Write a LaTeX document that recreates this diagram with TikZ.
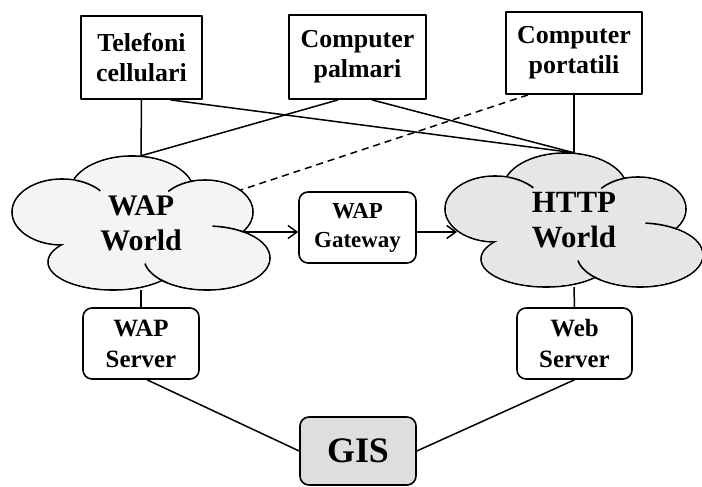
\documentclass[tikz,border=0pt]{standalone}
\usepackage{fontspec}
\setmainfont{Liberation Serif}
\usetikzlibrary{arrows.meta}
\usetikzlibrary{backgrounds}

\definecolor{wapgray}{HTML}{F4F4F4}
\definecolor{httpgray}{HTML}{E6E6E6}
\definecolor{gisgray}{HTML}{DEDEDE}

\tikzset{
  device/.style={draw, line width=1.8bp, align=center, inner sep=0pt,
    font=\bfseries\fontsize{26}{30}\selectfont},
  server/.style={draw, line width=1.6bp, rounded corners=9bp, align=center, inner sep=0pt,
    font=\bfseries\fontsize{25}{31}\selectfont},
  world/.style={align=center, inner sep=0pt, minimum width=258bp, minimum height=134bp,
    font=\bfseries\fontsize{30}{35}\selectfont},
  puff fill/.store in=\pufffill, puff fill=white,
  pics/puffcloud/.style={code={
    % outline of every puff, then the inside filled again
    \foreach \px/\py/\rx/\ry in {-9/31/62/36, -79/11/50/33, 64/11/48/32, -28/-39/65/28, 66/-35/63/32}
      \filldraw[fill=\pufffill, line width=1.6bp] (\px bp,\py bp) ellipse [x radius=\rx bp, y radius=\ry bp];
    \foreach \px/\py/\rx/\ry in {-9/31/62/36, -79/11/50/33, 64/11/48/32, -28/-39/65/28, 66/-35/63/32, 0/0/80/30}
      \fill[\pufffill] (\px bp,\py bp) ellipse [x radius=\rx bp-1bp, y radius=\ry bp-1bp];
    % short inner arcs
    \foreach \px/\py/\rx/\ry/\sa/\ea in {-79/11/50/33/75/40, 64/11/48/32/105/140,
        66/-35/63/32/85/55, 66/-35/63/32/190/230}
      \draw[line width=1.6bp] (\px bp,\py bp) ++(\sa:\rx bp and \ry bp)
        arc [start angle=\sa, end angle=\ea, x radius=\rx bp, y radius=\ry bp];
  }},
  link/.style={line width=1.5bp},
  arr/.style={line width=1.5bp, -{Straight Barb[length=9bp,width=13bp,line width=1.5bp]}},
}

\begin{document}
\begin{tikzpicture}[line join=round]
\useasboundingbox (0bp,0bp) rectangle (702bp,487bp);
%%
\pic [puff fill=wapgray] at (141bp,264bp) {puffcloud};
  \pic [puff fill=httpgray] at (574bp,267bp) {puffcloud};
\node (node_tel) at (141.5bp,429.5bp) [device, minimum width=121bp, minimum height=83bp] {Telefoni\\cellulari};
  \node (node_palm) at (357.5bp,430bp) [device, minimum width=137bp, minimum height=84bp] {Computer\\palmari};
  \node (node_port) at (574bp,434bp) [device, minimum width=136bp, minimum height=82bp] {Computer\\portatili};
  \node (node_wap) at (141bp,264bp) [world] {WAP\\World};
  \node (node_http) at (574bp,267bp) [world, font=\bfseries\fontsize{31}{35}\selectfont] {HTTP\\World};
  \node (node_gw) at (357.5bp,259.5bp) [server, minimum width=117bp, minimum height=71bp,
    font=\bfseries\fontsize{23}{29}\selectfont] {WAP\\Gateway};
  \node (node_wsrv) at (141bp,143.5bp) [server, minimum width=116bp, minimum height=71bp] {WAP\\Server};
  \node (node_websrv) at (574.5bp,143.5bp) [server, minimum width=115bp, minimum height=71bp] {Web\\Server};
  \node (node_gis) at (358bp,36bp) [server, fill=gisgray, minimum width=116bp, minimum height=68bp,
    font=\bfseries\fontsize{36}{40}\selectfont] {GIS};
  \coordinate (wap_out) at ([xshift=101.5bp,yshift=-9bp]node_wap.center);
  \coordinate (http_in) at ([xshift=-117bp,yshift=-12bp]node_http.center);
  \begin{pgfonlayer}{background}
  \draw [link] (node_tel.south) -- (node_wap.north);
  \draw [link] ([xshift=29bp]node_tel.south) -- (node_http.north);
  \draw [link] ([xshift=-19.5bp]node_palm.south) -- (node_wap.north);
  \draw [link] ([xshift=14.5bp]node_palm.south) -- (node_http.north);
  \draw [link] (node_port.south) -- (node_http.north);
  \draw [link, dash pattern=on 7bp off 5bp] ([xshift=-46bp]node_port.south) -- (node_wap.center);
  \end{pgfonlayer}
  \draw [arr] (wap_out) -- (wap_out -| node_gw.west);
  \draw [arr] (node_gw.east |- http_in) -- (http_in);
  \draw [link] (node_wap.south) -- (node_wsrv.north);
  \draw [link] (node_http.south) -- (node_websrv.north);
  \draw [link] ([xshift=6bp]node_wsrv.south) -- (node_gis.west);
  \draw [link] (node_websrv.south) -- (node_gis.east);
%
\end{tikzpicture}
\end{document}
